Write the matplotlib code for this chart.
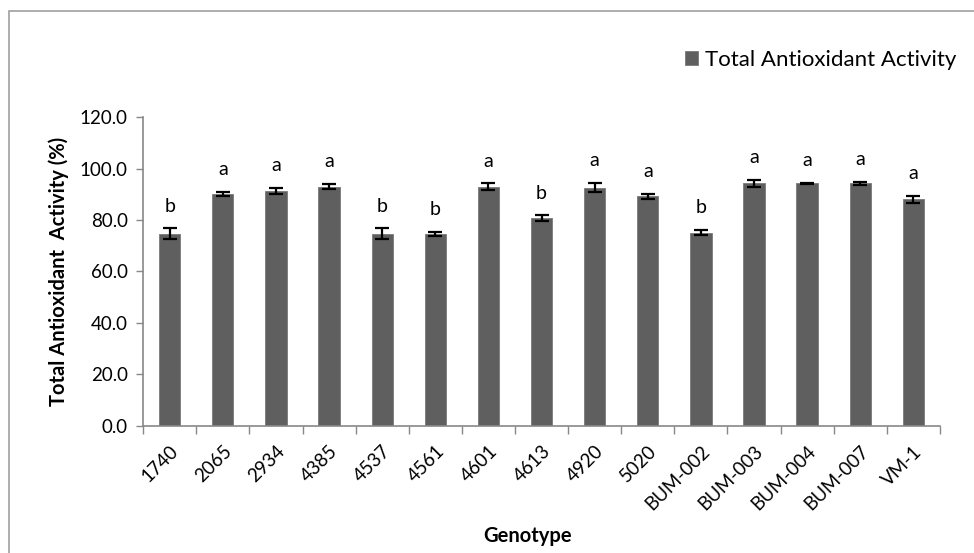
import matplotlib
matplotlib.use('Agg')
import matplotlib.pyplot as plt
from matplotlib.patches import Rectangle

# ── Data ─────────────────────────────────────────────────────────────────────
genotypes = ["1740", "2065", "2934", "4385", "4537", "4561", "4601", "4613",
             "4920", "5020", "BUM-002", "BUM-003", "BUM-004", "BUM-007", "VM-1"]
activity = [74.7, 90.0, 91.3, 93.0, 74.7, 74.7, 93.0, 80.8,
            92.6, 89.2, 75.1, 94.2, 94.2, 94.2, 88.0]
errors = [2.0, 0.8, 1.2, 1.0, 2.0, 0.8, 1.2, 1.0,
          1.8, 0.9, 1.0, 1.3, 0.3, 0.7, 1.3]
letters = ["b", "a", "a", "a", "b", "b", "a", "b",
           "a", "a", "b", "a", "a", "a", "a"]

plt.rcParams['font.family'] = ['Lato', 'DejaVu Sans']

fig = plt.figure(figsize=(9.74, 5.53), dpi=100)
ax = fig.add_axes([0.147, 0.2297, 0.818, 0.5587])

# chart-area frame (only top and left edges fall inside the picture)
fig.patches.append(Rectangle((9 / 974, -1.0), 2.0, 2.0 - 11 / 553, transform=fig.transFigure,
                             fill=False, edgecolor="#a0a0a0", lw=1.2))

x = range(len(genotypes))
ax.bar(x, activity, width=0.4, color="#5f5f5f", edgecolor="#7a7a7a", lw=0.6,
       label="Total Antioxidant Activity", zorder=2)
ax.errorbar(x, activity, yerr=errors, fmt="none", ecolor="black",
            elinewidth=1.6, capsize=5, capthick=1.6, zorder=3)

for xi, v, e, lab in zip(x, activity, errors, letters):
    ax.text(xi, v + e + 6.5, lab, ha="center", va="baseline", fontsize=14)

ax.set_xlim(-0.5, len(genotypes) - 0.5)
ax.set_ylim(0, 120)
ax.set_yticks(range(0, 121, 20))
ax.set_yticklabels([f"{t:.1f}" for t in range(0, 121, 20)], fontsize=13.5)
ax.set_xticks(list(x))
ax.set_xticklabels(genotypes, rotation=45, ha="right", rotation_mode="anchor", fontsize=13.5)
ax.set_xticks([i - 0.5 for i in range(len(genotypes) + 1)], minor=True)
ax.tick_params(axis="x", which="major", length=0, pad=12)
ax.tick_params(axis="x", which="minor", length=6, color="#888888", width=1)
ax.tick_params(axis="y", length=5, color="#888888", width=1, pad=6)

for s in ["top", "right"]:
    ax.spines[s].set_visible(False)
for s in ["left", "bottom"]:
    ax.spines[s].set_color("#888888")
    ax.spines[s].set_linewidth(1.2)

ax.set_ylabel("Total Antioxidant  Activity (%)", fontsize=14.5, fontweight="bold", labelpad=8)
ax.set_xlabel("Genotype", fontsize=14.5, fontweight="bold")
ax.xaxis.set_label_coords(0.482, -0.325)

ax.legend(loc="center left", bbox_to_anchor=(674 / 974, 1 - 60 / 553),
          bbox_transform=fig.transFigure, frameon=False, fontsize=16,
          handlelength=0.6, handleheight=0.6, handletextpad=0.3, borderpad=0)

fig.savefig("out.png", dpi=100)
